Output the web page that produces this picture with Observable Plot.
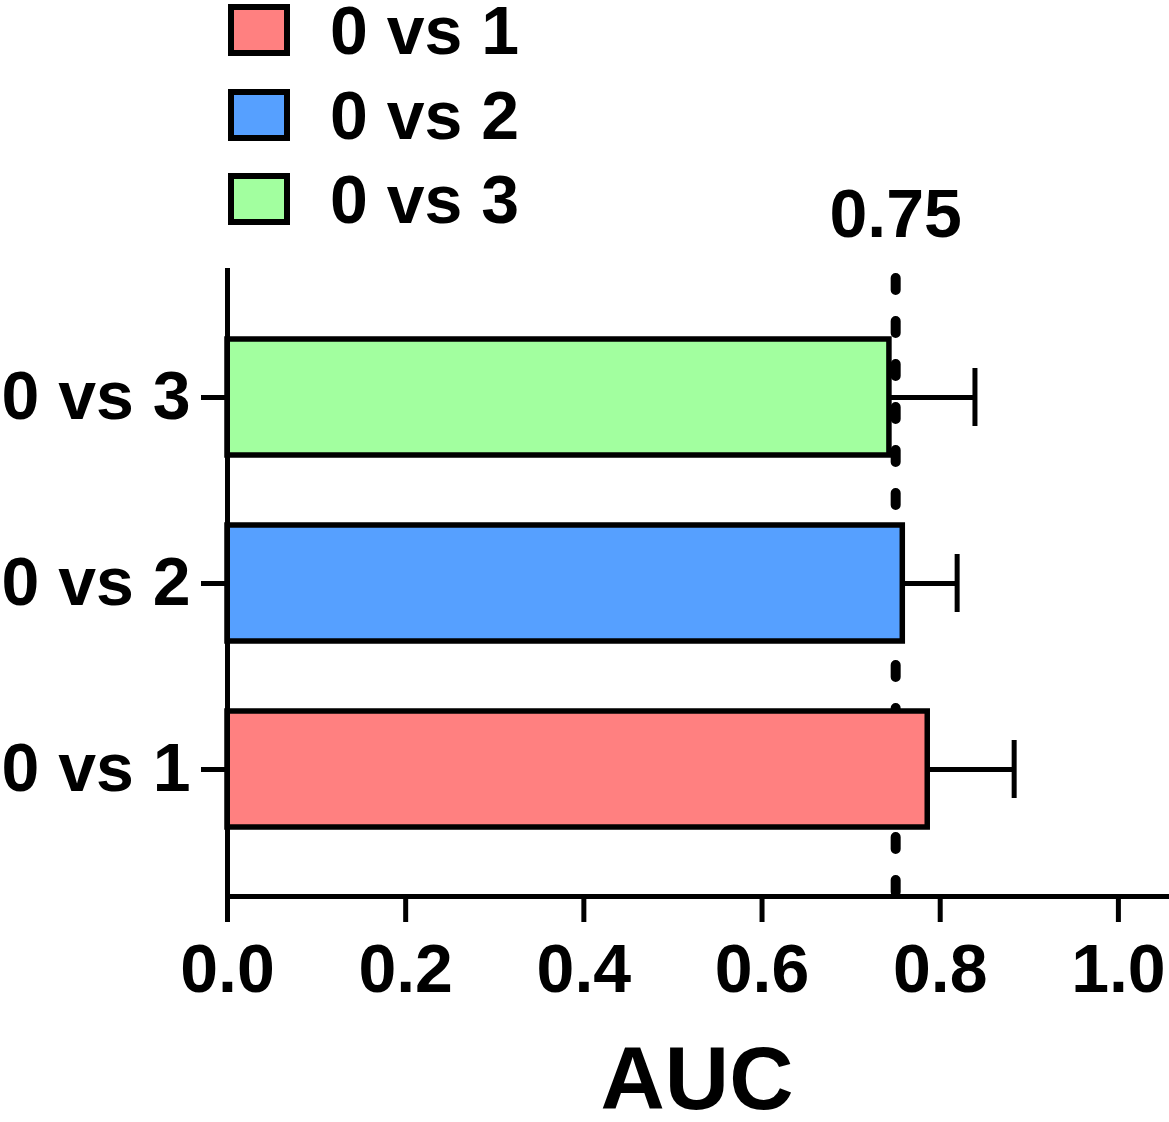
<!DOCTYPE html>
<html><head><meta charset="utf-8">
<script src="https://cdn.jsdelivr.net/npm/d3@7"></script>
<script src="https://cdn.jsdelivr.net/npm/@observablehq/plot@0.6"></script>
<style>
body{margin:0;background:#fff;}
#wrap{position:relative;width:1169px;height:1122px;font-family:"Liberation Sans",Arial,sans-serif;font-weight:bold;color:#000;}
#legend{position:absolute;left:0;top:0;}
.row{position:absolute;left:228px;display:flex;align-items:center;height:52px;white-space:nowrap;}
.sw{width:62px;height:52px;box-sizing:border-box;border:6px solid #000;}
.lab{font-size:68px;margin-left:40px;line-height:52px;height:52px;}
</style>
</head><body>
<div id="wrap"><div id="legend"></div><div id="chart"></div></div>
<script>
const groups = ["0 vs 1", "0 vs 2", "0 vs 3"];
const auc = [0.786, 0.758, 0.743];
const upper = [0.883, 0.819, 0.839];
const colors = ["#ff8080", "#56a0ff", "#a2ff9f"];
const refValue = 0.75;
const xTicks = [0, 0.2, 0.4, 0.6, 0.8, 1.0];
const xLabel = "AUC";

const rows = groups.map((g, i) => ({group: g, auc: auc[i], upper: upper[i]}));

const font = {fontSize: 68, fontWeight: "bold"};
const chart = Plot.plot({
  width: 1169, height: 1122,
  marginLeft: 227, marginRight: 3, marginTop: 270, marginBottom: 226,
  style: {fontFamily: '"Liberation Sans", Arial, sans-serif', fontWeight: "bold", color: "#000", background: "transparent", overflow: "visible"},
  x: {domain: [0, 1.054]},
  y: {domain: groups.slice().reverse(), paddingInner: 0.374, paddingOuter: 0.361},
  color: {domain: groups, range: colors},
  marks: [
    Plot.ruleX([refValue], {strokeWidth: 10, strokeDasharray: "12 31", strokeDashoffset: -8, strokeLinecap: "round"}),
    Plot.ruleY(rows, {y: "group", x1: "auc", x2: "upper", strokeWidth: 5}),
    Plot.tickX(rows, {y: "group", x: "upper", strokeWidth: 5, insetTop: 29, insetBottom: 29}),
    Plot.barX(rows, {y: "group", x: "auc", fill: "group", stroke: "#000", strokeWidth: 5.5}),
    Plot.frame({anchor: "left", strokeWidth: 5}),
    Plot.frame({anchor: "bottom", strokeWidth: 5}),
    Plot.axisX({ticks: xTicks, tickFormat: d3.format(".1f"), tickSize: 26, tickPadding: 21, strokeWidth: 5, label: null, ...font}),
    Plot.axisX({ticks: [], label: xLabel, labelAnchor: "center", labelOffset: 212, labelArrow: "none", fontSize: 89, fontWeight: "bold"}),
    Plot.axisY({tickSize: 26, tickPadding: 11, strokeWidth: 5, label: null, ...font}),
    Plot.text([refValue], {x: d => d, text: d => d3.format(".2f")(d), frameAnchor: "top", dy: -82, ...font})
  ]
});
document.getElementById("chart").appendChild(chart);

const legend = d3.select("#legend");
groups.forEach((g, i) => {
  const r = legend.append("div").attr("class", "row").style("top", (4 + i * 84.5) + "px");
  r.append("div").attr("class", "sw").style("background", colors[i]);
  r.append("div").attr("class", "lab").text(g);
});
</script>
</body></html>
